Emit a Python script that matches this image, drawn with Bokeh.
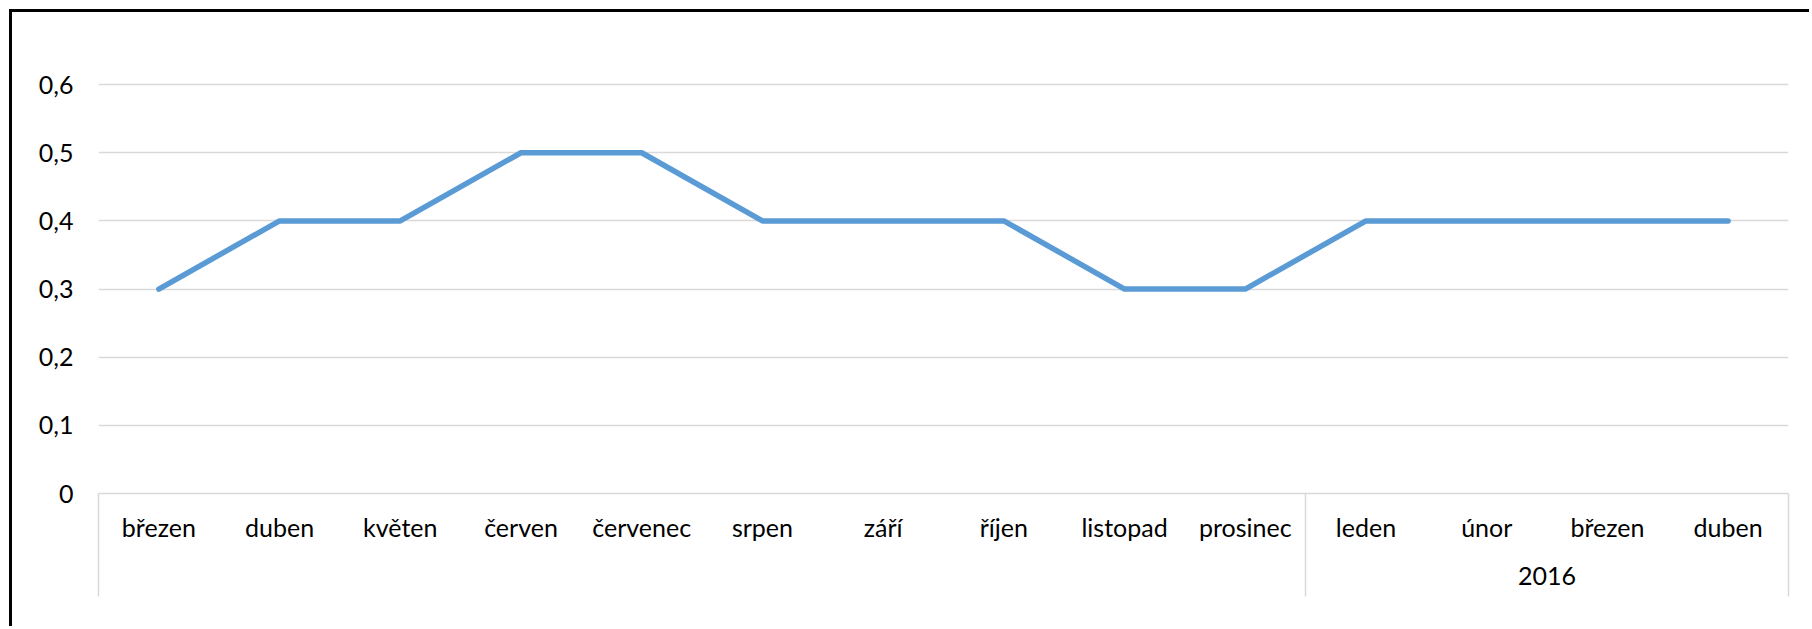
from bokeh.plotting import figure
from bokeh.models import Range1d, LinearAxis, FixedTicker, CustomJSTickFormatter
from bokeh.embed import file_html
from bokeh.resources import INLINE

# ---- data ----
months = ["březen", "duben", "květen", "červen", "červenec", "srpen", "září",
          "říjen", "listopad", "prosinec", "leden", "únor", "březen", "duben"]
values = [0.3, 0.4, 0.4, 0.5, 0.5, 0.4, 0.4, 0.4, 0.3, 0.3, 0.4, 0.4, 0.4, 0.4]
group_label = "2016"
group_first_index = 10          # "leden" starts the 2016 group
y_ticks = [0, 0.1, 0.2, 0.3, 0.4, 0.5, 0.6]

FONT = "Lato"
FS = "25px"
GRID = "#d9d9d9"
BOX_DEPTH = 103                 # px the category box reaches below the axis

n = len(months)
x = [i + 0.5 for i in range(n)]

p = figure(width=1800, height=617, output_backend="svg", toolbar_location=None,
           x_range=Range1d(0, n), y_range=Range1d(0, 0.65),
           x_axis_type=None, y_axis_location="left",
           min_border_left=86, min_border_right=24,
           min_border_top=38, min_border_bottom=136)
p.outline_line_color = None
p.background_fill_color = "white"
p.border_fill_color = "white"
p.styles = {"margin-left": "9px", "margin-top": "9px",
            "border-left": "3px solid black", "border-top": "3px solid black"}

# y axis
yax = p.yaxis[0]
yax.ticker = FixedTicker(ticks=y_ticks, minor_ticks=[])
yax.formatter = CustomJSTickFormatter(code="""
    if (Math.abs(tick) < 1e-9) return "0";
    return tick.toFixed(1).replace(".", ",");
""")
yax.axis_line_color = None
yax.major_tick_line_color = None
yax.minor_tick_line_color = None
yax.major_tick_out = 0
yax.major_tick_in = 0
yax.minor_tick_out = 0
yax.major_label_standoff = 25
yax.major_label_text_font = FONT
yax.major_label_text_font_size = FS
yax.major_label_text_color = "black"

p.ygrid.grid_line_color = GRID
p.ygrid.grid_line_width = 1.5
p.xgrid.visible = False

# x axis: month labels; category box edges drawn as long minor ticks at boundaries
xax = LinearAxis(
    ticker=FixedTicker(ticks=x, minor_ticks=[0, group_first_index, n]),
    formatter=CustomJSTickFormatter(args=dict(labels=months),
                                    code="return labels[Math.floor(tick)];"),
)
xax.axis_line_color = GRID
xax.axis_line_width = 1.5
xax.major_tick_out = 0
xax.major_tick_in = 0
xax.major_tick_line_color = None
xax.minor_tick_out = BOX_DEPTH
xax.minor_tick_in = 0
xax.minor_tick_line_color = GRID
xax.minor_tick_line_width = 1.5
xax.major_label_standoff = 18 - BOX_DEPTH
xax.major_label_text_font = FONT
xax.major_label_text_font_size = FS
xax.major_label_text_color = "black"
p.add_layout(xax, "below")

# group axis (year)
group_center = (group_first_index + n) / 2
gax = LinearAxis(
    ticker=FixedTicker(ticks=[group_center], minor_ticks=[]),
    formatter=CustomJSTickFormatter(args=dict(lab=group_label), code="return lab;"),
)
gax.axis_line_color = None
gax.major_tick_line_color = None
gax.minor_tick_line_color = None
gax.major_tick_out = 0
gax.major_tick_in = 0
gax.minor_tick_out = 0
gax.major_label_standoff = 22
gax.major_label_text_font = FONT
gax.major_label_text_font_size = FS
gax.major_label_text_color = "black"
p.add_layout(gax, "below")

p.line(x, values, line_color="#5b9bd5", line_width=5.5,
       line_cap="round", line_join="round")

open("out.html", "w").write(file_html(p, INLINE))
